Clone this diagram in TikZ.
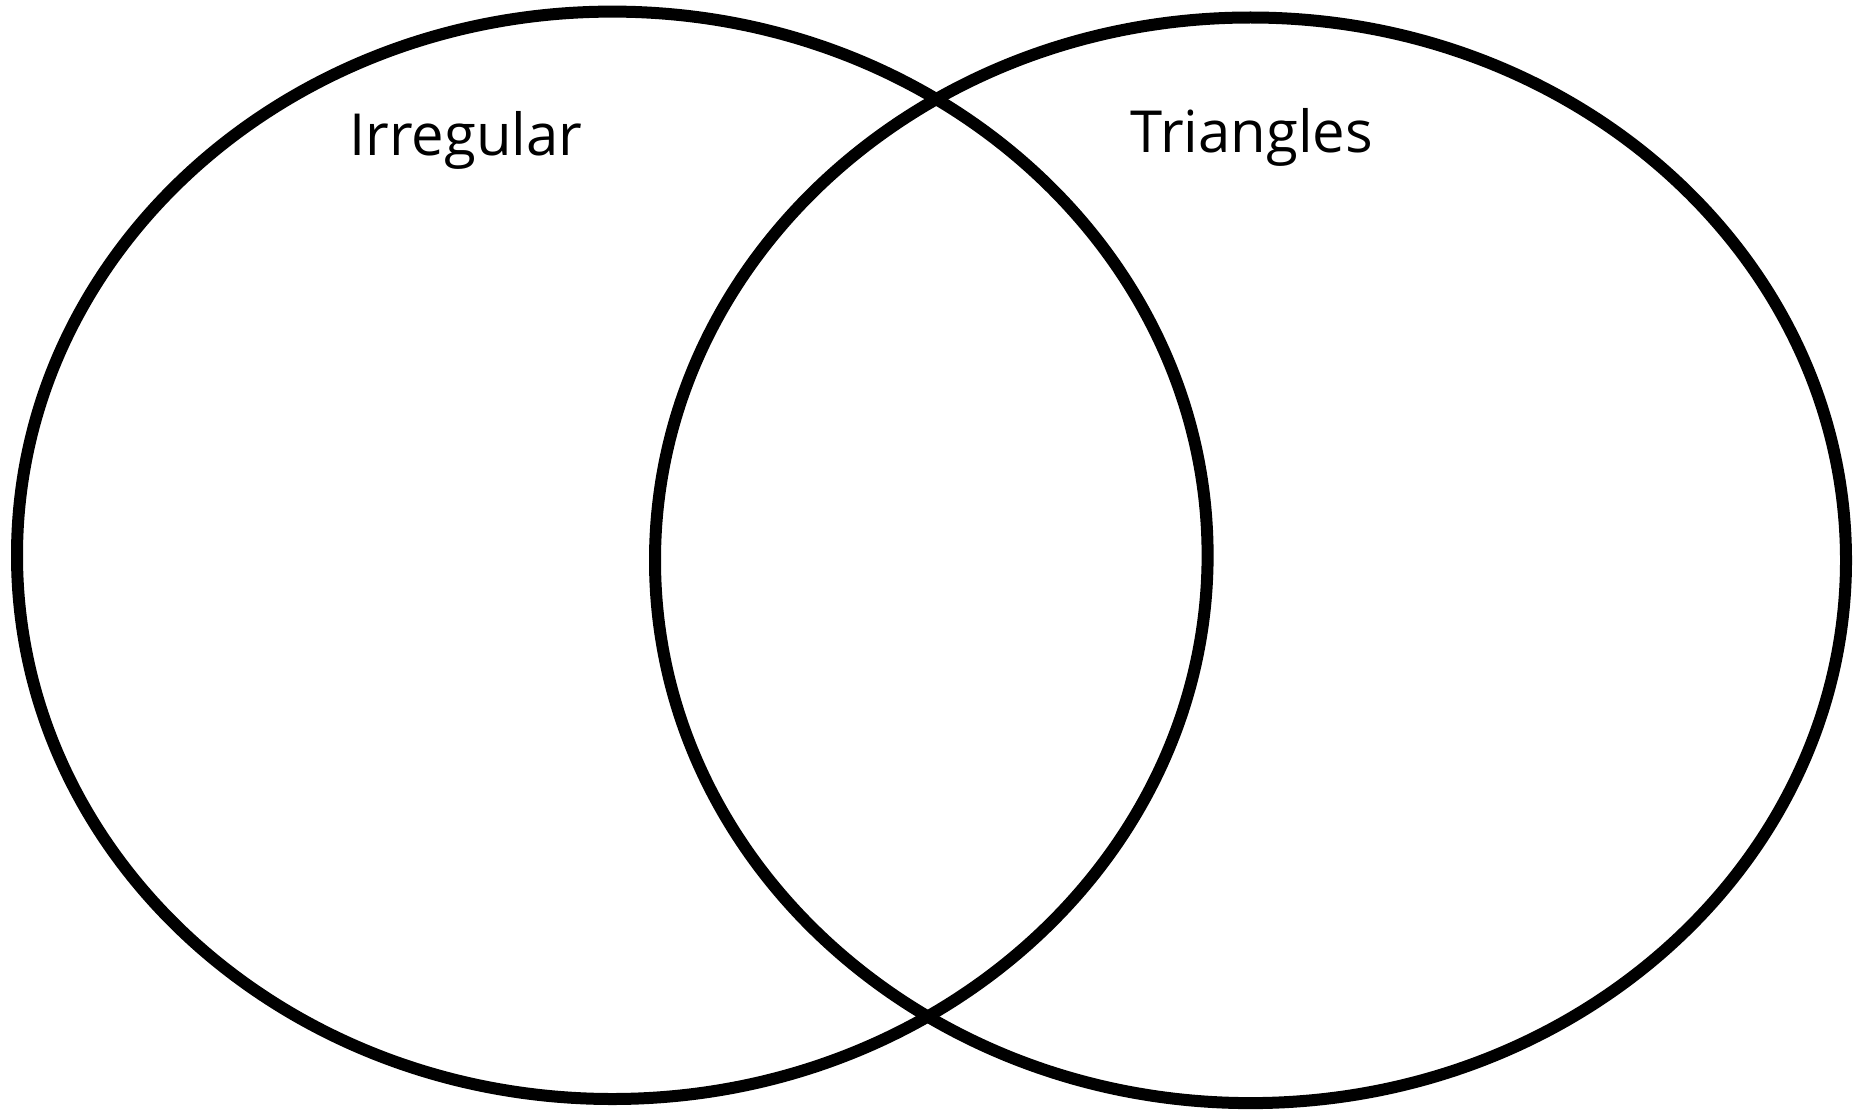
\documentclass[tikz,border=0pt]{standalone}
\usepackage{fontspec}
\setmainfont{Open Sans}
\usepackage{tikz}
\usetikzlibrary{positioning}

\begin{document}
\begin{tikzpicture}[x=1pt,y=-1pt,
  setline/.style={draw=black,line width=12pt},
  setlabel/.style={anchor=base,inner sep=0pt,
              font=\fontsize{58}{70}\selectfont,text=black}]
  \useasboundingbox (0,0) rectangle (1862,1113);
  \coordinate (irrc) at (612.3,555.3);
  \coordinate (tric) at (1250.5,560.3);
  \draw[setline] (irrc) ellipse [x radius=595.3,y radius=543.7];
  \draw[setline] (tric) ellipse [x radius=595.5,y radius=542.8];
  \node[setlabel] (irr) at (466,155) {Irregular};
  \node[setlabel] (tri) at (1252,153) {Triangles};
\end{tikzpicture}
\end{document}
